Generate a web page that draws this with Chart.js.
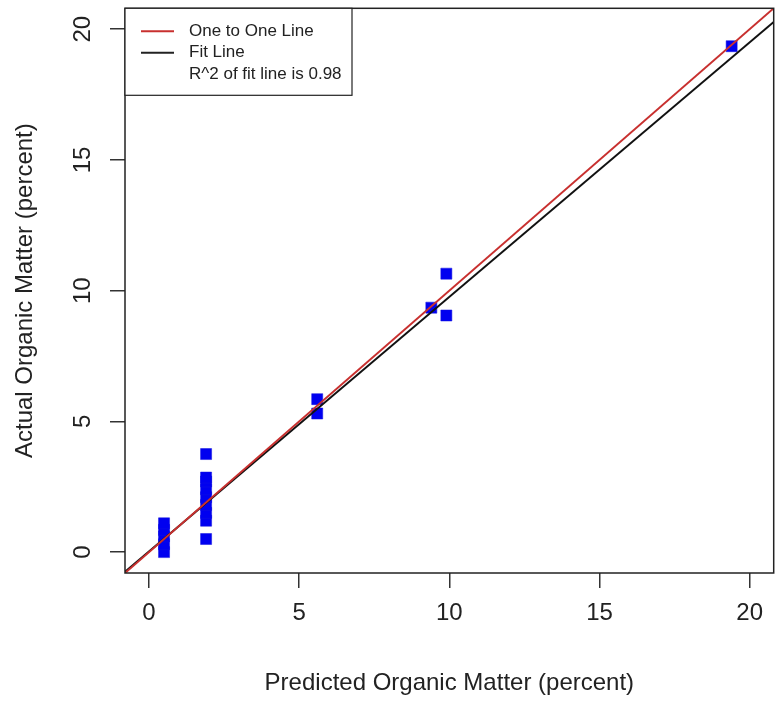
<!DOCTYPE html>
<html>
<head>
<meta charset="utf-8">
<script src="https://cdn.jsdelivr.net/npm/chart.js@4.4.0/dist/chart.umd.min.js"></script>
<style>
  html, body { margin: 0; padding: 0; background: #fff; }
  #chart { display: block; }
</style>
</head>
<body>
<canvas id="chart" width="782" height="703"></canvas>
<script>
// values
const predicted = [0.5, 0.5, 0.5, 0.5, 0.5,
                   1.9, 1.9, 1.9, 1.9, 1.9, 1.9, 1.9, 1.9, 1.9,
                   5.6, 5.6, 9.4, 9.9, 9.9, 19.4];
const actual    = [0.0, 0.3, 0.6, 0.85, 1.1,
                   0.5, 1.2, 1.5, 1.8, 2.1, 2.4, 2.7, 2.85, 3.75,
                   5.3, 5.85, 9.35, 10.65, 9.05, 19.35];

const lineX     = [-0.8, 20.8];
const oneToOneY = [-0.8, 20.8];
const fitY      = [-0.75, 20.28];

const tickValues = [0, 5, 10, 15, 20];
const legendLabels = ['One to One Line', 'Fit Line', 'R^2 of fit line is 0.98'];

const FONT = '"Liberation Sans", Arial, Helvetica, sans-serif';
const RED = '#c8302f';

function pairs(xs, ys) {
  return xs.map((x, i) => ({ x: x, y: ys[i] }));
}

// box around the plot region
const frame = {
  id: 'frame',
  afterDatasetsDraw(chart) {
    const a = chart.chartArea, ctx = chart.ctx;
    ctx.save();
    ctx.strokeStyle = '#222';
    ctx.lineWidth = 1.5;
    ctx.strokeRect(a.left, a.top, a.right - a.left, a.bottom - a.top);
    ctx.restore();
  }
};

// R style legend in the top left corner
const boxLegend = {
  id: 'boxLegend',
  afterDraw(chart) {
    const a = chart.chartArea, ctx = chart.ctx;
    const x0 = a.left, y0 = a.top, w = 227, h = 87;
    ctx.save();
    ctx.fillStyle = '#fff';
    ctx.fillRect(x0, y0, w, h);
    ctx.strokeStyle = '#222';
    ctx.lineWidth = 1.2;
    ctx.strokeRect(x0, y0, w, h);
    const colors = [RED, '#222', null];
    ctx.font = '17px ' + FONT;
    ctx.textBaseline = 'middle';
    for (let i = 0; i < legendLabels.length; i++) {
      const y = y0 + 23 + i * 21.5;
      if (colors[i]) {
        ctx.strokeStyle = colors[i];
        ctx.lineWidth = 2;
        ctx.beginPath();
        ctx.moveTo(x0 + 16, y);
        ctx.lineTo(x0 + 49, y);
        ctx.stroke();
      }
      ctx.fillStyle = '#222';
      ctx.fillText(legendLabels[i], x0 + 64, y);
    }
    ctx.restore();
  }
};

new Chart(document.getElementById('chart'), {
  type: 'scatter',
  data: {
    datasets: [
      {
        type: 'line',
        label: legendLabels[0],
        data: pairs(lineX, oneToOneY),
        borderColor: RED,
        borderWidth: 2,
        pointRadius: 0,
        fill: false
      },
      {
        type: 'line',
        label: legendLabels[1],
        data: pairs(lineX, fitY),
        borderColor: '#111',
        borderWidth: 2,
        pointRadius: 0,
        fill: false
      },
      {
        label: 'points',
        data: pairs(predicted, actual),
        pointStyle: 'rect',
        pointRadius: 7.8,
        backgroundColor: '#0000f0',
        borderColor: '#1010e0',
        borderWidth: 0.5
      }
    ]
  },
  options: {
    responsive: false,
    animation: false,
    devicePixelRatio: 1,
    layout: { padding: { top: 5, right: 8, bottom: 0, left: 0 } },
    plugins: {
      legend: { display: false },
      tooltip: { enabled: false }
    },
    scales: {
      x: {
        type: 'linear',
        min: -0.8,
        max: 20.8,
        afterFit(s) { s.height = 130; s.paddingLeft = 0; s.paddingRight = 0; },
        afterBuildTicks(s) { s.ticks = tickValues.map(v => ({ value: v })); },
        grid: { display: true, drawOnChartArea: false, drawTicks: true, tickLength: 15, color: '#333', lineWidth: 1.5 },
        border: { display: false },
        ticks: { padding: 11, color: '#222', font: { family: FONT, size: 24 }, maxRotation: 0, autoSkip: false },
        title: { display: true, text: 'Predicted Organic Matter (percent)', color: '#222',
                 font: { family: FONT, size: 24 }, padding: { top: 0, bottom: 5.6 } }
      },
      y: {
        type: 'linear',
        min: -0.8,
        max: 20.8,
        afterFit(s) { s.width = 125; s.paddingTop = 0; s.paddingBottom = 0; },
        afterBuildTicks(s) { s.ticks = tickValues.map(v => ({ value: v })); },
        grid: { display: true, drawOnChartArea: false, drawTicks: true, tickLength: 15, color: '#333', lineWidth: 1.5 },
        border: { display: false },
        ticks: { padding: 13.5, color: '#222', font: { family: FONT, size: 24 }, minRotation: 90, maxRotation: 90,
                 crossAlign: 'center', autoSkip: false },
        title: { display: true, text: 'Actual Organic Matter (percent)', color: '#222',
                 font: { family: FONT, size: 24 }, padding: { top: 10.6, bottom: 0 } }
      }
    }
  },
  plugins: [frame, boxLegend]
});
</script>
</body>
</html>
